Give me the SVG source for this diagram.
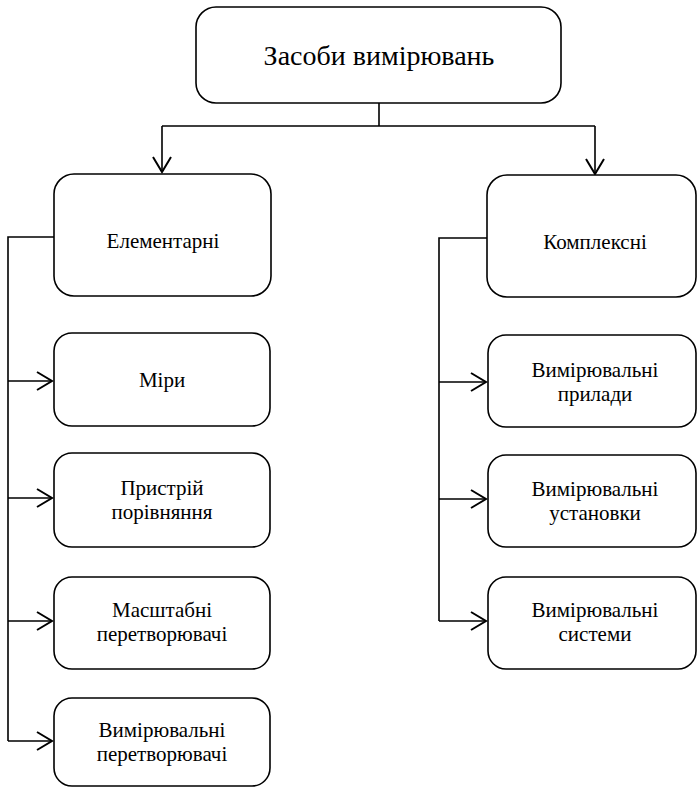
<svg xmlns="http://www.w3.org/2000/svg" width="698" height="788" viewBox="0 0 698 788">
<defs>
<style>
.box{fill:#fff;stroke:#000;stroke-width:1.6}
.ln{fill:none;stroke:#000;stroke-width:1.6}
.ah{fill:none;stroke:#000;stroke-width:2}
text{font-family:'Liberation Serif','Times New Roman',serif;fill:#000;text-anchor:middle}
.t1{font-size:28px}
.t2{font-size:21px}
</style>
</defs>
<rect width="698" height="788" fill="#fff"/>
<g id="connectors">
<path class="ln" d="M379,103 V126 M162,126 H595 M162,126 V172 M595,126 V174"/>
<path class="ah" d="M153,157 L162,172 L171,157 M586,159 L595,174 L604,159"/>
<path class="ln" d="M54,237 H8 V741 M8,381 H52 M8,498 H52 M8,621 H52 M8,741 H52"/>
<path class="ah" d="M37,372 L52,381 L37,390 M37,489 L52,498 L37,507 M37,612 L52,621 L37,630 M37,732 L52,741 L37,750"/>
<path class="ln" d="M487,238 H439 V621 M439,382 H486 M439,499 H486 M439,621 H486"/>
<path class="ah" d="M471,373 L486,382 L471,391 M471,490 L486,499 L471,508 M471,612 L486,621 L471,630"/>
</g>
<g id="root"><rect class="box" x="196" y="7" width="365" height="96" rx="20"/><text class="t1" x="379" y="65">Засоби вимірювань</text></g>
<g id="elem"><rect class="box" x="54" y="174" width="217" height="122" rx="20"/><text class="t2" x="163" y="248">Елементарні</text></g>
<g id="miry"><rect class="box" x="54" y="333" width="216" height="93" rx="18"/><text class="t2" x="162" y="387">Міри</text></g>
<g id="prystriy"><rect class="box" x="54" y="453" width="216" height="94" rx="18"/><text class="t2" x="162" y="495">Пристрій</text><text class="t2" x="162" y="519">порівняння</text></g>
<g id="masht"><rect class="box" x="54" y="577" width="216" height="92" rx="18"/><text class="t2" x="162" y="617">Масштабні</text><text class="t2" x="162" y="641">перетворювачі</text></g>
<g id="vymper"><rect class="box" x="54" y="698" width="216" height="88" rx="18"/><text class="t2" x="162" y="737">Вимірювальні</text><text class="t2" x="162" y="761">перетворювачі</text></g>
<g id="kompl"><rect class="box" x="487" y="175" width="209" height="122" rx="20"/><text class="t2" x="595" y="249">Комплексні</text></g>
<g id="prylady"><rect class="box" x="488" y="335" width="208" height="92" rx="18"/><text class="t2" x="595" y="377">Вимірювальні</text><text class="t2" x="595" y="401">прилади</text></g>
<g id="ustan"><rect class="box" x="488" y="455" width="208" height="92" rx="18"/><text class="t2" x="595" y="496">Вимірювальні</text><text class="t2" x="595" y="520">установки</text></g>
<g id="system"><rect class="box" x="488" y="577" width="208" height="92" rx="18"/><text class="t2" x="595" y="617">Вимірювальні</text><text class="t2" x="595" y="641">системи</text></g>
</svg>
